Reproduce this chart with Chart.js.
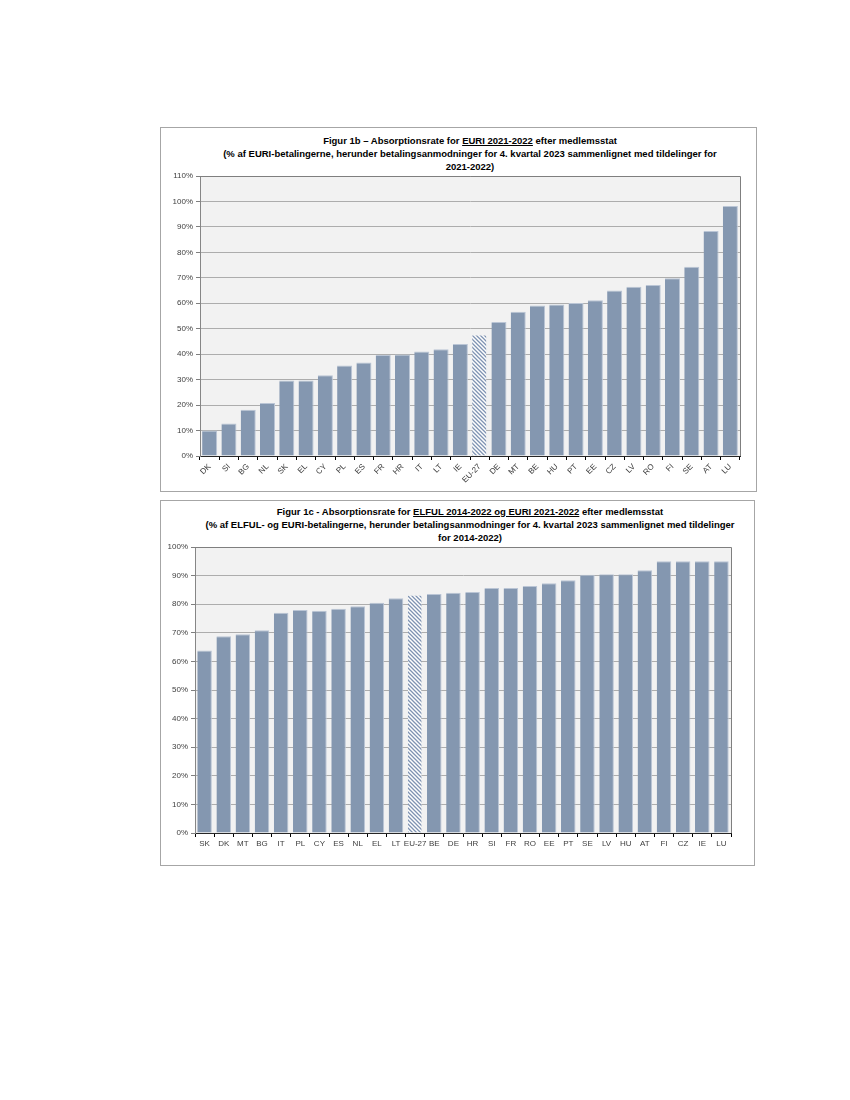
<!DOCTYPE html>
<html>
<head>
<meta charset="utf-8">
<script src="https://cdn.jsdelivr.net/npm/chart.js@4/dist/chart.umd.min.js"></script>
<style>
  html, body { margin:0; padding:0; background:#fff; }
  .box { position:absolute; border:1px solid #A6A6A6; background:#fff; }
  .title { position:absolute; text-align:center; font-family:"Liberation Sans Narrow","Liberation Sans",Arial,sans-serif; font-weight:bold; font-size:9.5px; line-height:13px; color:#000; white-space:nowrap; }
  canvas { position:absolute; left:0; top:0; }
</style>
</head>
<body>
<div class="box" id="box1" style="left:160px;top:127px;width:595px;height:363px;">
  <div class="title" style="left:9px;top:6px;width:600px;">Figur 1b – Absorptionsrate for <u>EURI 2021-2022</u> efter medlemsstat<br>(% af EURI-betalingerne, herunder betalingsanmodninger for 4. kvartal 2023 sammenlignet med tildelinger for<br>2021-2022)</div>
  <canvas id="c1" width="595" height="363" style="width:595px;height:363px;"></canvas>
</div>
<div class="box" id="box2" style="left:160px;top:500px;width:593px;height:364px;">
  <div class="title" style="left:9px;top:4px;width:600px;">Figur 1c - Absorptionsrate for <u>ELFUL 2014-2022 og EURI 2021-2022</u> efter medlemsstat<br>(% af ELFUL- og EURI-betalingerne, herunder betalingsanmodninger for 4. kvartal 2023 sammenlignet med tildelinger<br>for 2014-2022)</div>
  <canvas id="c2" width="593" height="364" style="width:593px;height:364px;"></canvas>
</div>
<script>
// ---- Data ----
const categories1 = ['DK','SI','BG','NL','SK','EL','CY','PL','ES','FR','HR','IT','LT','IE','EU-27','DE','MT','BE','HU','PT','EE','CZ','LV','RO','FI','SE','AT','LU'];
const values1 = [10.0,12.8,18.2,20.8,29.7,29.7,31.7,35.6,36.7,39.7,39.9,41.1,41.9,44.0,47.7,52.6,56.7,59.1,59.5,60.1,61.2,65.0,66.5,67.2,69.8,74.3,88.4,98.2];

const categories2 = ['SK','DK','MT','BG','IT','PL','CY','ES','NL','EL','LT','EU-27','BE','DE','HR','SI','FR','RO','EE','PT','SE','LV','HU','AT','FI','CZ','IE','LU'];
const values2 = [63.8,68.8,69.5,70.9,77.0,78.0,77.7,78.4,79.3,80.5,82.1,83.3,83.6,84.0,84.3,85.7,85.7,86.4,87.3,88.4,90.3,90.5,90.5,91.9,95.0,95.0,95.0,95.0];

const yMax1 = 110, yMax2 = 100, yStep = 10;
const highlight = 'EU-27';

// ---- Styles ----
const BAR = '#8497B0';
const BAR_EDGE = '#BAC5D5';
const FONT = '"Liberation Sans Narrow","Liberation Sans",Arial,sans-serif';

function hatch() {
  const c = document.createElement('canvas');
  c.width = 4; c.height = 4;
  const x = c.getContext('2d');
  x.fillStyle = '#ffffff';
  x.fillRect(0,0,4,4);
  x.strokeStyle = '#7F93B2';
  x.lineWidth = 1.3;
  x.beginPath();
  x.moveTo(-1,-1); x.lineTo(5,5);
  x.moveTo(-1,3); x.lineTo(1,5);
  x.moveTo(3,-1); x.lineTo(5,1);
  x.stroke();
  return x.createPattern(c, 'repeat');
}

const plotFrame = {
  id: 'plotFrame',
  beforeDraw(chart) {
    const a = chart.chartArea, ctx = chart.ctx;
    ctx.save();
    ctx.fillStyle = '#F2F2F2';
    ctx.fillRect(a.left, a.top, a.right - a.left, a.bottom - a.top);
    ctx.restore();
  },
  afterDraw(chart) {
    const a = chart.chartArea, ctx = chart.ctx;
    ctx.save();
    ctx.strokeStyle = '#7F7F7F';
    ctx.lineWidth = 1;
    ctx.beginPath();
    ctx.moveTo(a.left, a.top + 0.5);
    ctx.lineTo(a.right + 0.5, a.top + 0.5);
    ctx.lineTo(a.right + 0.5, a.bottom);
    ctx.stroke();
    ctx.restore();
  }
};

function makeChart(id, cats, vals, yMax, opts) {
  const pat = hatch();
  return new Chart(document.getElementById(id), {
    type: 'bar',
    data: {
      labels: cats,
      datasets: [{
        data: vals,
        backgroundColor: cats.map(c => c === highlight ? pat : BAR),
        borderColor: cats.map(c => c === highlight ? 'rgba(0,0,0,0)' : BAR_EDGE),
        borderWidth: {top: 1, right: 1, left: 0, bottom: 0},
        borderSkipped: 'bottom',
        barPercentage: opts.barPct,
        categoryPercentage: 1.0
      }]
    },
    options: {
      responsive: false,
      animation: false,
      devicePixelRatio: 1,
      layout: { padding: { left: 0, right: opts.padRight, top: opts.padTop, bottom: 0 } },
      plugins: { legend: { display: false }, title: { display: false }, tooltip: { enabled: false } },
      scales: {
        x: {
          afterFit(s) { s.height = opts.xHeight; },
          grid: { display: true, drawOnChartArea: false, drawTicks: true, tickLength: 4, tickColor: '#000', offset: true },
          border: { display: true, color: '#262626', width: 1 },
          ticks: {
            autoSkip: false,
            minRotation: opts.rot, maxRotation: opts.rot,
            color: '#404040',
            padding: 2,
            font: { family: FONT, size: 8 }
          }
        },
        y: {
          min: 0, max: yMax,
          afterFit(s) { s.width = opts.yWidth; },
          grid: { color: '#ADADAD', lineWidth: 1, drawTicks: true, tickLength: 4, tickColor: '#7F7F7F' },
          border: { display: true, color: '#868686', width: 1 },
          ticks: {
            stepSize: yStep,
            color: '#404040',
            padding: 3,
            font: { family: FONT, size: 8 },
            callback: v => v + '%'
          }
        }
      }
    },
    plugins: [plotFrame]
  });
}

makeChart('c1', categories1, values1, yMax1, { padRight: 16, padTop: 48, xHeight: 35, yWidth: 39, rot: 45, barPct: 0.78 });
makeChart('c2', categories2, values2, yMax2, { padRight: 23, padTop: 46, xHeight: 32, yWidth: 34, rot: 0, barPct: 0.76 });
</script>
</body>
</html>
